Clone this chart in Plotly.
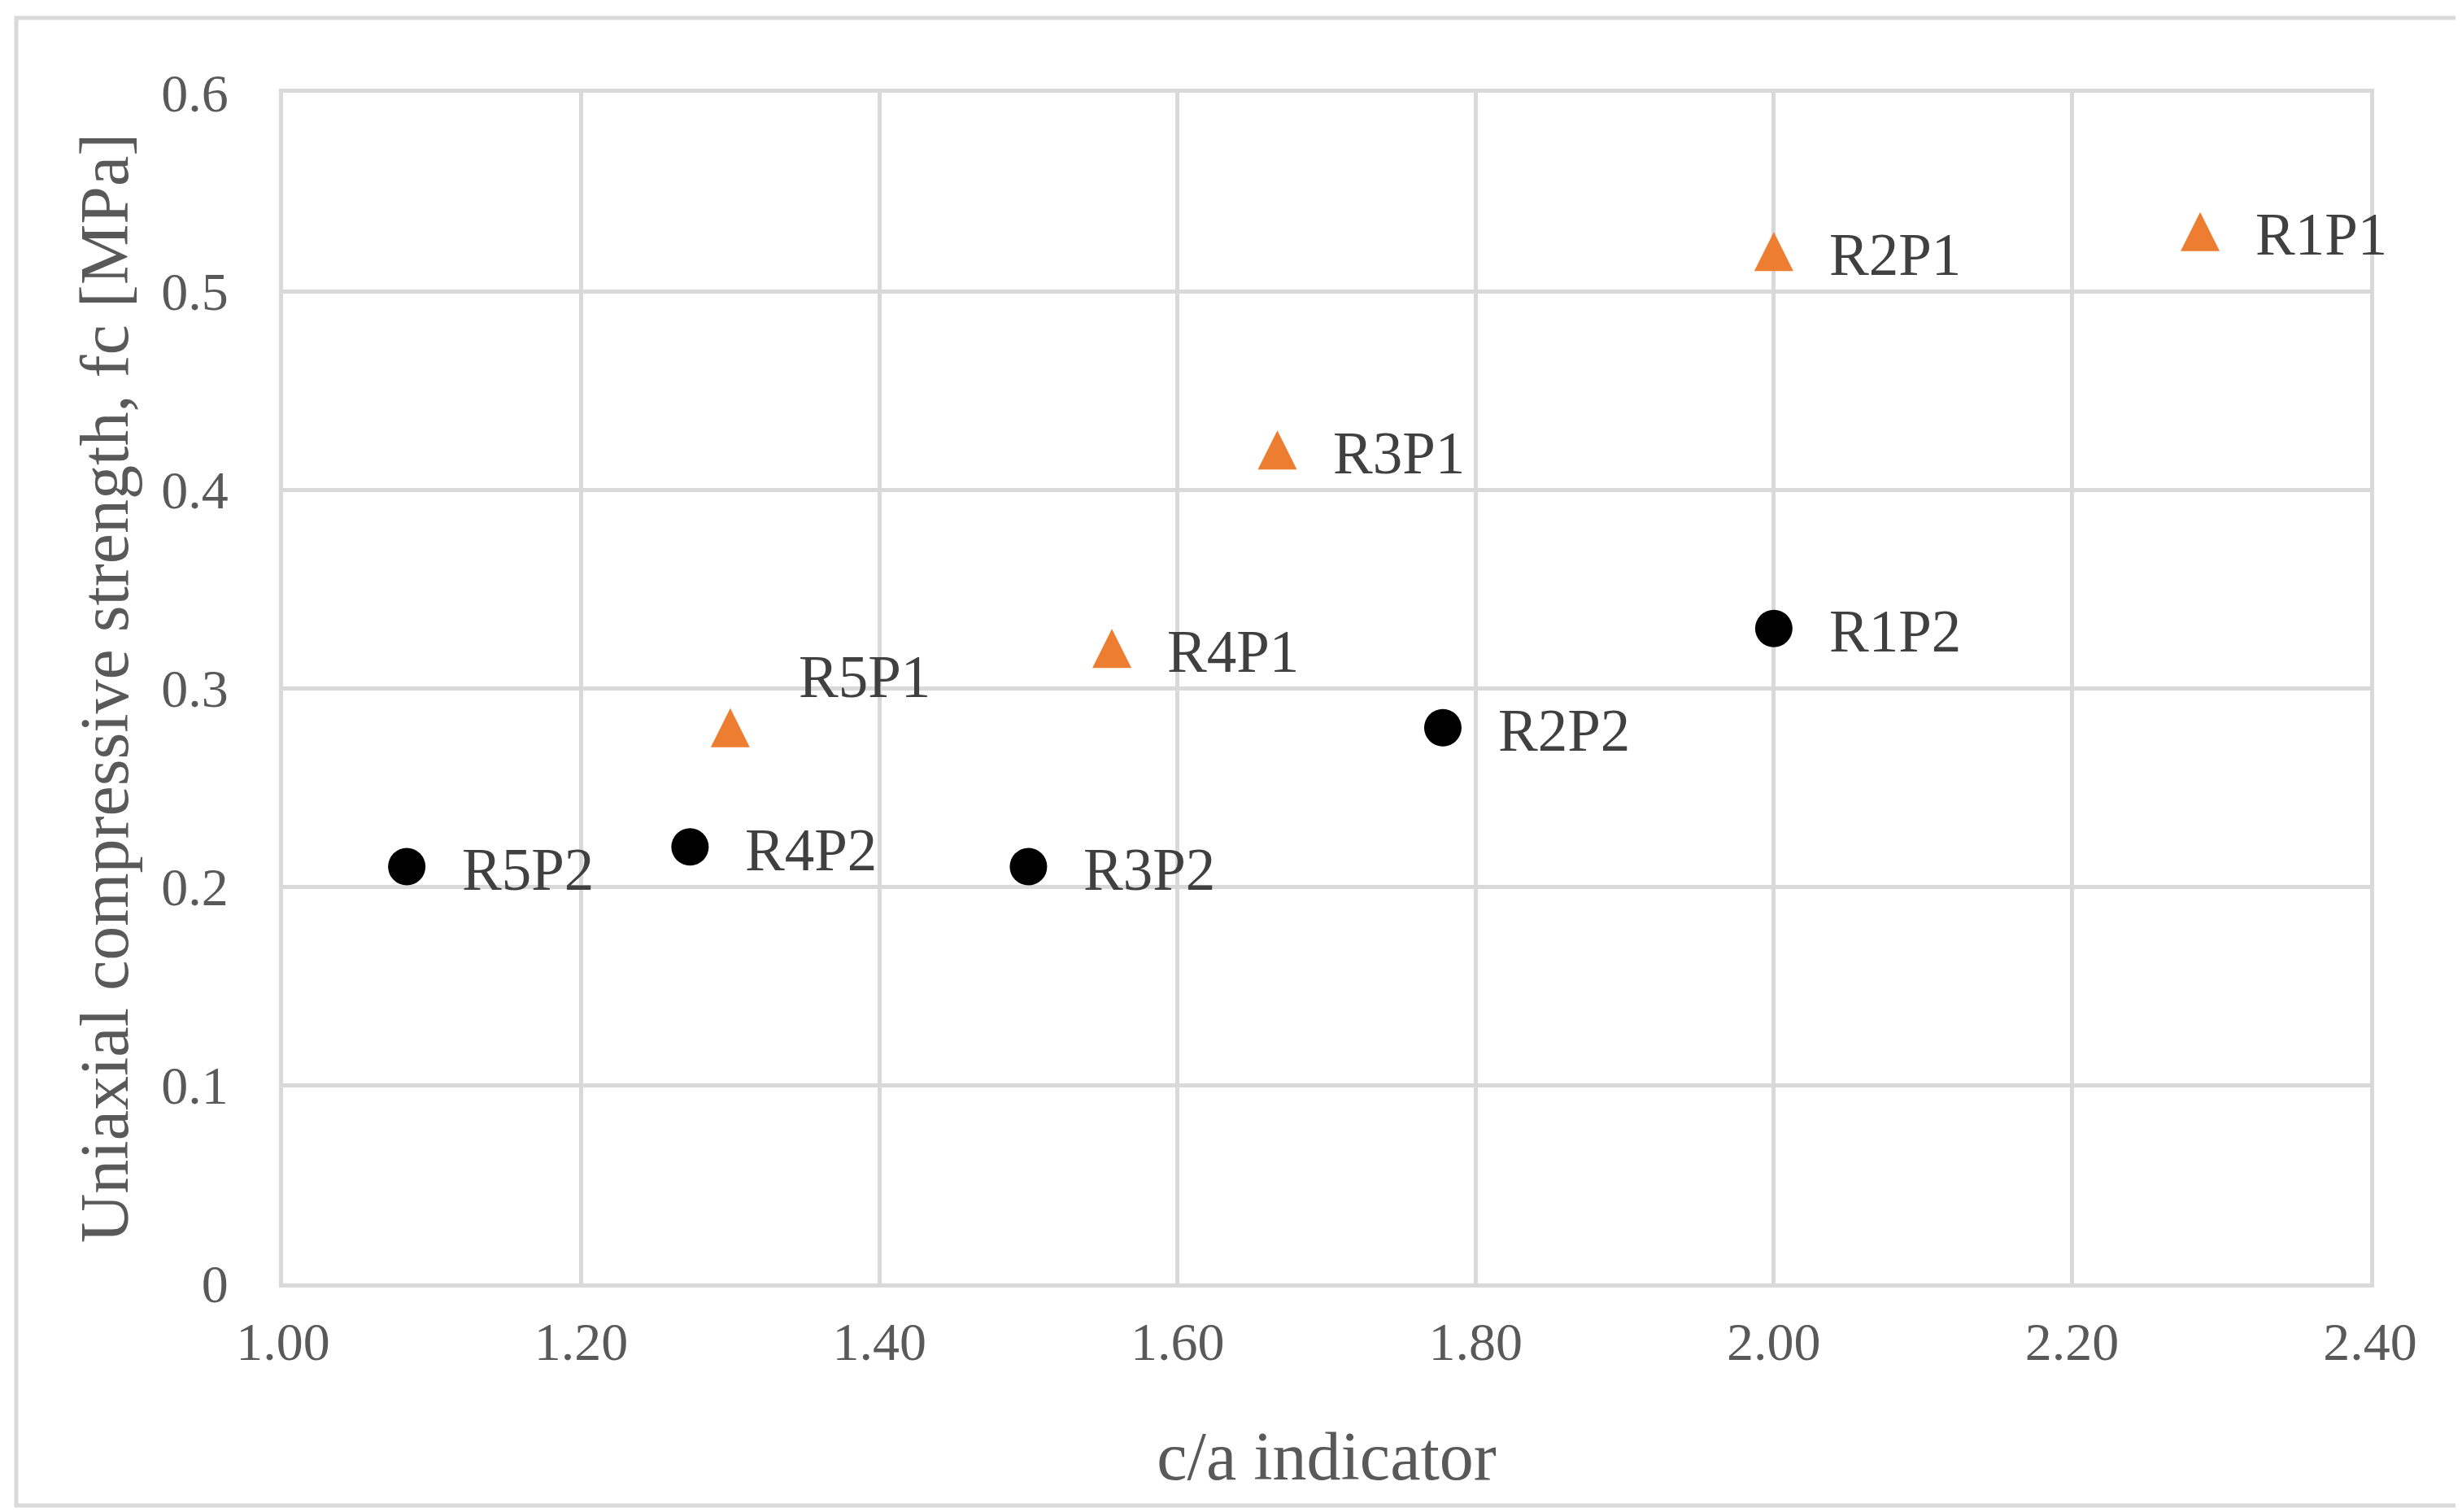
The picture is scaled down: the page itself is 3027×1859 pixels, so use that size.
import plotly.graph_objects as go

# ---- data ----
p1_labels = ["R1P1", "R2P1", "R3P1", "R4P1", "R5P1"]
p1_x = [2.286, 2.00, 1.667, 1.556, 1.30]
p1_y = [0.53, 0.52, 0.42, 0.32, 0.28]

p2_labels = ["R1P2", "R2P2", "R3P2", "R4P2", "R5P2"]
p2_x = [2.00, 1.778, 1.50, 1.273, 1.083]
p2_y = [0.33, 0.28, 0.21, 0.22, 0.21]

x_ticks = [1.0, 1.2, 1.4, 1.6, 1.8, 2.0, 2.2, 2.4]
y_ticks = [0, 0.1, 0.2, 0.3, 0.4, 0.5, 0.6]

# ---- styles ----
W, H = 3027, 1859
L, R, T, B = 340, 2906, 106, 1570
FONT = "Times New Roman, Liberation Serif, serif"
GRID = "#d9d9d9"
TXT = "#595959"
LBL = "#404040"
ORANGE = "#ED7D31"

# label offsets (px) per label: default right of marker
default_shift = (66, -4)
special_shift = {"R5P1": (82, 62)}

fig = go.Figure()
fig.add_trace(go.Scatter(
    x=p1_x, y=p1_y, mode="markers", name="P1",
    marker=dict(symbol="arrow-down", angle=180, standoff=24, size=48, color=ORANGE,
                line=dict(width=0)),
    cliponaxis=False, hoverinfo="skip"))
fig.add_trace(go.Scatter(
    x=p2_x, y=p2_y, mode="markers", name="P2",
    marker=dict(symbol="circle", size=46, color="#000000", line=dict(width=0)),
    cliponaxis=False, hoverinfo="skip"))

annotations = []
for labels, xs, ys in ((p1_labels, p1_x, p1_y), (p2_labels, p2_x, p2_y)):
    for lab, xv, yv in zip(labels, xs, ys):
        dx, dy = special_shift.get(lab, default_shift)
        annotations.append(dict(
            x=xv, y=yv, xref="x", yref="y", text=lab, showarrow=False,
            xanchor="left", yanchor="middle", xshift=dx, yshift=dy,
            font=dict(family=FONT, size=73, color=LBL)))

pw, ph = R - L, B - T
def px_x(p):
    return (p - L) / pw
def px_y(p):
    return (B - p) / ph

shapes = [dict(type="rect", xref="paper", yref="paper",
               x0=px_x(12), x1=px_x(3016), y0=px_y(1843), y1=px_y(14),
               line=dict(color=GRID, width=5), fillcolor="rgba(0,0,0,0)", layer="below")]

fig.update_layout(
    width=W, height=H,
    margin=dict(l=L, r=W - R, t=T, b=H - B),
    paper_bgcolor="white", plot_bgcolor="white",
    showlegend=False,
    annotations=annotations,
    shapes=shapes,
    font=dict(family=FONT, color=TXT),
)
fig.update_xaxes(
    range=[1.0, 2.4], tickvals=x_ticks, ticktext=[f"{v:.2f}" for v in x_ticks],
    showgrid=True, gridcolor=GRID, gridwidth=5,
    showline=True, linecolor=GRID, linewidth=5, mirror=True, zeroline=False,
    ticks="", ticklabelstandoff=10,
    tickfont=dict(family=FONT, size=66, color=TXT),
    title=dict(text="c/a indicator", font=dict(family=FONT, size=84, color=TXT), standoff=76),
)
fig.update_yaxes(
    range=[0, 0.6], tickvals=y_ticks, ticktext=[f"{v:g}" for v in y_ticks],
    showgrid=True, gridcolor=GRID, gridwidth=5,
    showline=True, linecolor=GRID, linewidth=5, mirror=True, zeroline=False,
    ticks="", ticklabelstandoff=49,
    tickfont=dict(family=FONT, size=66, color=TXT),
    title=dict(text="Uniaxial compressive strength, fc [MPa]",
               font=dict(family=FONT, size=84, color=TXT), standoff=14),
)

fig.write_html("out.html")
